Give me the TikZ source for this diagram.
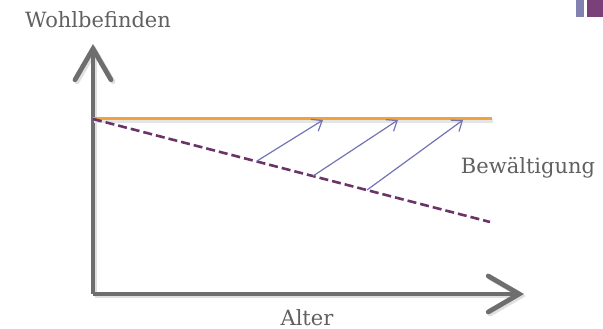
\documentclass[tikz,border=0pt]{standalone}
\usepackage{fontspec}
\setmainfont{DejaVu Serif}
\usetikzlibrary{arrows.meta}
\definecolor{axisgray}{HTML}{6E6E6E}
\definecolor{txtgray}{HTML}{606060}
\definecolor{orangeline}{HTML}{F0A23C}
\definecolor{dashpurple}{HTML}{6A3468}
\definecolor{bluearrow}{HTML}{7274B4}
\definecolor{sqblue}{HTML}{8182B2}
\definecolor{sqpurple}{HTML}{7B3F7A}
\tikzset{
  axis/.style={line width=4.8pt, draw=axisgray, line join=miter,
    -{Straight Barb[length=31pt, width=36pt, line width=4.8pt, line cap=round]}},
  axisshadow/.style={line width=4.8pt, draw=black!12, line join=miter,
    -{Straight Barb[length=31pt, width=36pt, line width=4.8pt, line cap=round]}},
  level/.style={line width=3pt, draw=orangeline},
  decline/.style={line width=2.6pt, draw=dashpurple, dash pattern=on 9pt off 4pt},
  cope/.style={line width=1.2pt, draw=bluearrow,
    -{Straight Barb[length=9pt, width=14pt, line width=1.2pt]}},
  lbl/.style={text=txtgray, font=\fontsize{21}{24}\selectfont, inner sep=0pt, anchor=base}
}
\begin{document}
\begin{tikzpicture}[x=1pt,y=-1pt]
\useasboundingbox (0,0) rectangle (603,329);
% corner squares
\fill[sqblue] (576,0) rectangle (584,17);
\fill[sqpurple] (587,0) rectangle (603,17);
% coordinates
\coordinate (ytip) at (93,44);
\coordinate (origin) at (93,294);
\coordinate (xtip) at (524,294);
\coordinate (ostart) at (93,119);
\coordinate (oend) at (492,119);
\coordinate (dend) at (490,222);
\coordinate (s1) at (257,161);
\coordinate (t1) at (323,120);
\coordinate (s2) at (313,176);
\coordinate (t2) at (398,120);
\coordinate (s3) at (367,190);
\coordinate (t3) at (463,120);
% axes shadow
\draw[axisshadow] ([shift={(2,2)}]origin) -- ([shift={(2,2)}]ytip);
\draw[axisshadow] ([shift={(2,2)}]origin) -- ([shift={(2,2)}]xtip);
% axes
\draw[axis] (origin) -- (ytip);
\draw[axis] (origin) -- (xtip);
% lines
\draw[level, draw=black!10] ([shift={(1,2)}]ostart) -- ([shift={(1,2)}]oend);
\draw[level] (ostart) -- (oend);
\draw[decline] (ostart) -- (dend);
\draw[cope] (s1) -- (t1);
\draw[cope] (s2) -- (t2);
\draw[cope] (s3) -- (t3);
% labels
\node[lbl] (wohl) at (98,28) {Wohlbefinden};
\node[lbl] (bew) at (528,173) {Bewältigung};
\node[lbl] (alter) at (307,325) {Alter};
\end{tikzpicture}
\end{document}
